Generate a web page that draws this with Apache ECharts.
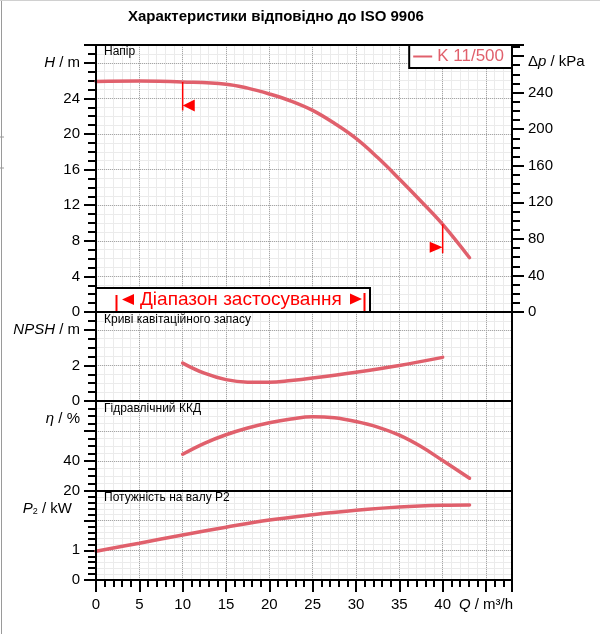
<!DOCTYPE html>
<html>
<head>
<meta charset="utf-8">
<script src="https://cdn.jsdelivr.net/npm/echarts@6/dist/echarts.min.js"></script>
<style>
html,body{margin:0;padding:0;background:#fff}
#chart{width:600px;height:634px}
</style>
</head>
<body>
<div id="chart"></div>
<script>
// Q axis, m3/h
var qMin = 0, qMax = 48;

// Напір H / m
var headQ = [0, 5, 10, 15, 17.5, 20, 22.5, 25, 27.5, 30, 32.5, 35, 37.5, 40, 43.1];
var head  = [25.9, 25.95, 25.85, 25.6, 25.15, 24.5, 23.7, 22.65, 21.2, 19.5, 17.35, 14.95, 12.45, 9.85, 6.1];

// NPSH / m
var npshQ = [10, 12.5, 15, 17.5, 20, 22.5, 25, 30, 35, 40];
var npsh  = [2.13, 1.56, 1.2, 1.06, 1.05, 1.15, 1.29, 1.62, 2.0, 2.45];

// ККД η / %
var etaQ = [10, 12.5, 15, 17.5, 20, 22.5, 25, 27.5, 30, 32.5, 35, 37.5, 40, 43.1];
var eta  = [44.5, 51.8, 57.5, 62, 65.5, 68, 69.5, 68.8, 66.3, 62.6, 57.2, 49.6, 40.3, 28.5];

// P2 / kW
var powQ = [0, 5, 10, 15, 20, 25, 30, 35, 40, 43.1];
var pow  = [0.97, 1.24, 1.52, 1.78, 2.02, 2.2, 2.35, 2.46, 2.52, 2.53];

// межі робочого діапазону (вертикальні мітки на кривій H)
var limitQ    = [10, 40];
var limitLow  = [22.65, 6.6];
var flagQ     = [10.7, 39.25];
var flagH     = [23.2, 7.27];

var CURVE = '#e0606c';
var RED = '#ff0000';
var FONT = 'Liberation Sans';

function zip(a, b) {
  return a.map(function (v, i) { return [v, b[i]]; });
}

var panels = [
  {top: 45, height: 267},
  {top: 312, height: 89},
  {top: 401, height: 90},
  {top: 491, height: 89}
];
var plotLeft = 96, plotWidth = 416;

var rich = {
  i: {fontStyle: 'italic', fontSize: 15, color: '#000', fontFamily: FONT},
  s: {fontSize: 9, color: '#000', fontFamily: FONT, verticalAlign: 'bottom', padding: [6, 0, 0, 0]}
};

var tickStyle = {color: '#000', width: 2};
var majorGrid = {show: true, showMinLine: false, showMaxLine: false,
  lineStyle: {color: '#a6a6a6', type: 'dotted', width: 1}};
var minorGrid = {show: true, showMinLine: false, showMaxLine: false,
  lineStyle: {color: '#ebebeb', width: 1}};

var grids = panels.map(function (p) {
  return {left: plotLeft, right: 600 - plotLeft - plotWidth, top: p.top, height: p.height, show: false};
});

var xAxes = [];
panels.forEach(function (p, gi) {
  var bottom = gi === panels.length - 1;
  xAxes.push({
    type: 'value', gridIndex: gi, position: 'bottom', min: qMin, max: qMax, interval: 5, z: 1,
    axisLine: {show: bottom, lineStyle: {color: '#000', width: 2}},
    axisTick: {show: bottom, length: 12, lineStyle: tickStyle},
    axisLabel: {show: bottom, margin: 17, fontSize: 15, color: '#000', fontFamily: FONT, rich: rich,
      formatter: function (v) { return v === 45 ? '{i|Q} / m³/h' : (v <= 40 ? String(v) : ''); }},
    splitLine: majorGrid
  });
  xAxes.push({
    type: 'value', gridIndex: gi, position: 'bottom', min: qMin, max: qMax, interval: 1, z: 0,
    axisLine: {show: false},
    axisTick: {show: bottom, length: 7, lineStyle: tickStyle},
    axisLabel: {show: false},
    splitLine: minorGrid
  });
});

var yDefs = [
  {min: 0, max: 30, interval: 4, minor: 1,
    fmt: function (v) { return v === 28 ? '{i|H} / m' : (v <= 24 ? String(v) : ''); }},
  {min: 0, max: 5, interval: 2, minor: 0.5,
    fmt: function (v) { return v === 4 ? '{i|NPSH} / m' : (v <= 2 ? String(v) : ''); }},
  {min: 20, max: 80, interval: 20, minor: 5,
    fmt: function (v) { return (v === 20 || v === 40) ? String(v) : ''; }},
  {min: 0, max: 3, interval: 1, minor: 0.2,
    fmt: function (v) { return v <= 1 ? String(v) : ''; }}
];

var yAxes = [];
yDefs.forEach(function (d, gi) {
  yAxes.push({
    type: 'value', gridIndex: gi, position: 'left', min: d.min, max: d.max, interval: d.interval, z: 1,
    axisLine: {show: true, lineStyle: {color: '#000', width: 2}},
    axisTick: {show: true, length: 12, lineStyle: tickStyle},
    axisLabel: {margin: 16, fontSize: 15, color: '#000', fontFamily: FONT, rich: rich, formatter: d.fmt},
    splitLine: majorGrid
  });
  yAxes.push({
    type: 'value', gridIndex: gi, position: 'left', min: d.min, max: d.max, interval: d.minor, z: 0,
    axisLine: {show: false},
    axisTick: {show: true, length: 8, lineStyle: tickStyle},
    axisLabel: {show: false},
    splitLine: minorGrid
  });
});
// Δp / kPa праворуч
yAxes.push({
  type: 'value', gridIndex: 0, position: 'right', min: 0, max: 292, interval: 40, z: 1,
  axisLine: {show: true, lineStyle: {color: '#000', width: 2}},
  axisTick: {show: true, length: 12, lineStyle: tickStyle},
  axisLabel: {margin: 16, fontSize: 15, color: '#000', fontFamily: FONT,
    formatter: function (v) { return v <= 240 ? String(v) : ''; }},
  splitLine: {show: false}
});
yAxes.push({
  type: 'value', gridIndex: 0, position: 'right', min: 0, max: 292, interval: 10, z: 0,
  axisLine: {show: false},
  axisTick: {show: true, length: 8, lineStyle: tickStyle},
  axisLabel: {show: false},
  splitLine: {show: false}
});

function curve(name, data, gi) {
  return {
    name: name, type: 'line', xAxisIndex: gi * 2, yAxisIndex: gi * 2, data: data,
    smooth: 0.4, symbol: 'none', silent: true,
    lineStyle: {color: CURVE, width: 3.5, cap: 'round'}, itemStyle: {color: CURVE}, z: 3
  };
}

var series = [
  curve('K 11/500', zip(headQ, head), 0),
  curve('npsh', zip(npshQ, npsh), 1),
  curve('eta', zip(etaQ, eta), 2),
  curve('p2', zip(powQ, pow), 3)
];
limitQ.forEach(function (q, k) {
  series.push({
    type: 'line', xAxisIndex: 0, yAxisIndex: 0, symbol: 'none', silent: true, z: 4,
    data: [[q, head[headQ.indexOf(q)]], [q, limitLow[k]]],
    lineStyle: {color: RED, width: 1.5}
  });
});
series.push({
  type: 'scatter', xAxisIndex: 0, yAxisIndex: 0, silent: true, z: 4,
  symbol: 'triangle',
  data: [
    {value: [flagQ[0], flagH[0]], symbolRotate: 90, symbolSize: [12, 12]},
    {value: [flagQ[1], flagH[1]], symbolRotate: -90, symbolSize: [11, 13]}
  ],
  itemStyle: {color: RED, opacity: 1}
});

function label(x, y, text, opt) {
  opt = opt || {};
  return {
    type: 'text', x: x, y: y, z: 20, silent: true,
    style: {text: text, fill: opt.fill || '#000', fontSize: opt.size || 15, fontFamily: FONT,
      align: opt.align || 'left', verticalAlign: 'middle', rich: opt.rich}
  };
}

function line(x1, y1, x2, y2, color, w, z) {
  return {type: 'line', z: z || 20, silent: true, shape: {x1: x1, y1: y1, x2: x2, y2: y2},
    style: {stroke: color, lineWidth: w}};
}

var graphic = [
  // рамка сторінки
  line(1.5, 0, 1.5, 634, '#9a9a9a', 1),
  line(0, 0.5, 600, 0.5, '#d0d0d0', 1),
  line(0, 137, 4, 137, '#9a9a9a', 1),
  line(0, 168, 4, 168, '#9a9a9a', 1),
  // назви панелей
  label(104, 52, 'Напір', {size: 12}),
  label(104, 320, 'Криві кавітаційного запасу', {size: 12}),
  label(104, 409, 'Гідравлічний ККД', {size: 12}),
  label(104, 498, 'Потужність на валу P2', {size: 12}),
  // назви осей
  label(528, 62, '{n|Δ}{i|p} / kPa', {rich: {n: {fontSize: 15, fontFamily: FONT}, i: rich.i}}),
  label(80, 419, '{i|η} / %', {align: 'right', rich: rich}),
  label(72, 509, '{i|P}{s|2} / kW', {align: 'right', rich: rich})
];
// чорні рамки панелей
panels.forEach(function (p) {
  graphic.push({type: 'rect', z: 30, silent: true,
    shape: {x: plotLeft, y: p.top, width: plotWidth, height: p.height},
    style: {fill: 'none', stroke: '#000', lineWidth: 2}});
});
// діапазон застосування
graphic.push(
  {type: 'rect', z: 40, silent: true, shape: {x: 96, y: 288, width: 274, height: 24},
    style: {fill: '#fff', stroke: '#000', lineWidth: 2}},
  line(116.5, 295, 116.5, 311, RED, 2, 41),
  {type: 'polygon', z: 41, silent: true, shape: {points: [[122, 299.5], [134, 294], [134, 305]]}, style: {fill: RED}},
  {type: 'text', z: 41, silent: true, x: 140, y: 300,
    style: {text: 'Діапазон застосування', fill: RED, fontSize: 19, fontFamily: FONT, verticalAlign: 'middle'}},
  {type: 'polygon', z: 41, silent: true, shape: {points: [[350, 293.5], [350, 304.5], [362, 299]]}, style: {fill: RED}},
  line(364.5, 293, 364.5, 311, RED, 2, 41)
);

var option = {
  animation: false,
  backgroundColor: '#fff',
  title: {
    text: 'Характеристики відповідно до ISO 9906', left: 128, top: 9, padding: 0,
    textStyle: {fontSize: 15, fontWeight: 'bold', color: '#000', fontFamily: FONT}
  },
  legend: {
    data: [{name: 'K 11/500', icon: 'rect'}], right: 88, top: 45, selectedMode: false, z: 50,
    backgroundColor: '#fff', borderColor: '#000', borderWidth: 2, padding: [3, 8, 3, 4],
    itemWidth: 19, itemHeight: 2,
    textStyle: {color: CURVE, fontSize: 17, fontFamily: FONT}
  },
  grid: grids,
  xAxis: xAxes,
  yAxis: yAxes,
  series: series,
  graphic: graphic
};

var chart = echarts.init(document.getElementById('chart'));
chart.setOption(option);
</script>
</body>
</html>
